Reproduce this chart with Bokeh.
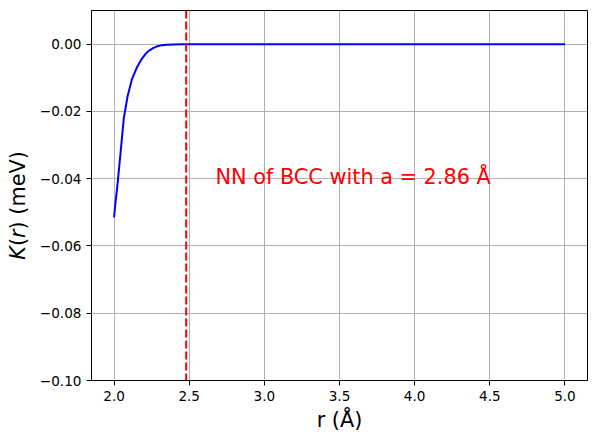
from bokeh.plotting import figure
from bokeh.models import Range1d, FixedTicker, Span, Label
from bokeh.layouts import row
from bokeh.embed import file_html
from bokeh.resources import INLINE
import math

# ---- data ----
r_vals = [2.00, 2.01, 2.02, 2.03, 2.045, 2.065, 2.09, 2.12, 2.15, 2.18, 2.21, 2.23, 2.26, 2.29,
          2.32, 2.35, 2.40, 2.45, 2.50, 3.00, 3.50, 4.00, 4.50, 5.00]
k_vals = [-0.0515, -0.0470, -0.0430, -0.0385, -0.0315, -0.0220, -0.0155, -0.0103, -0.0071, -0.0047,
          -0.0029, -0.0020, -0.0012, -0.0006, -0.0003, -0.0002, -0.0001, 0.0, 0.0, 0.0, 0.0, 0.0, 0.0, 0.0]
nn_distance = 2.48
x_ticks = [2.0, 2.5, 3.0, 3.5, 4.0, 4.5, 5.0]
x_tick_labels = ["2.0", "2.5", "3.0", "3.5", "4.0", "4.5", "5.0"]
y_ticks = [-0.10, -0.08, -0.06, -0.04, -0.02, 0.0]
y_tick_labels = ["\u22120.10", "\u22120.08", "\u22120.06", "\u22120.04", "\u22120.02", "0.00"]
annotation_text = "NN of BCC with a = 2.86 \u00c5"
annotation_pos = (2.675, -0.0396)
x_label = "r (\u00c5)"
y_label_parts = ["K", "(", "r", ") (meV)"]
y_label_styles = ["italic", "normal", "italic", "normal"]

# ---- layout ----
W, H = 596, 441
LW = 30                      # width of the strip holding the y-axis title
X0, X1 = 1.85, 5.15
Y0, Y1 = -0.10, 0.01
FW, FH = 496, 370
BL, BT = 91 - LW, 10
BR = W - LW - BL - FW
BB = H - BT - FH
FONT = "DejaVu Sans"
FS = 20.8

p = figure(width=W - LW, height=H, frame_width=FW, frame_height=FH,
           x_range=Range1d(X0, X1), y_range=Range1d(Y0, Y1),
           output_backend="svg", toolbar_location=None,
           min_border_left=BL, min_border_right=BR, min_border_top=BT, min_border_bottom=BB)
p.background_fill_color = "white"
p.border_fill_color = "white"
p.outline_line_color = "black"
p.outline_line_width = 1

for ax in (p.xaxis[0], p.yaxis[0]):
    ax.axis_line_color = "black"
    ax.axis_line_width = 1
    ax.major_tick_line_color = "black"
    ax.major_tick_line_width = 1
    ax.major_tick_out = 5
    ax.major_tick_in = 0
    ax.minor_tick_line_color = None
    ax.major_label_standoff = 5
    ax.major_label_text_font = FONT
    ax.major_label_text_font_size = "13.6px"
    ax.major_label_text_color = "black"

p.xaxis.ticker = FixedTicker(ticks=x_ticks)
p.xaxis.major_label_overrides = {t: l for t, l in zip(x_ticks, x_tick_labels)}
p.yaxis.ticker = FixedTicker(ticks=y_ticks)
p.yaxis.major_label_overrides = {t: l for t, l in zip(y_ticks, y_tick_labels)}

p.xaxis.axis_label = x_label
p.xaxis.axis_label_text_font = FONT
p.xaxis.axis_label_text_font_size = f"{FS}px"
p.xaxis.axis_label_text_font_style = "normal"
p.xaxis.axis_label_text_color = "black"
p.xaxis.axis_label_standoff = 4

for g in (p.xgrid[0], p.ygrid[0]):
    g.grid_line_color = "#b0b0b0"
    g.grid_line_width = 1
p.xgrid.ticker = FixedTicker(ticks=x_ticks)
p.ygrid.ticker = FixedTicker(ticks=y_ticks)

p.line(r_vals, k_vals, line_color="blue", line_width=2)
p.add_layout(Span(location=nn_distance, dimension="height", line_color="red",
                  line_width=2, line_dash="8 3"))
p.add_layout(Label(x=annotation_pos[0], y=annotation_pos[1], text=annotation_text,
                   text_font=FONT, text_font_size=f"{FS}px", text_color="red",
                   text_align="left", text_baseline="alphabetic"))

# ---- strip on the left with the y-axis title (italic K and r) ----
lab = figure(width=LW, height=H, frame_width=LW, frame_height=H,
             x_range=Range1d(0, LW), y_range=Range1d(0, H),
             x_axis_location=None, y_axis_location=None,
             output_backend="svg", toolbar_location=None,
             min_border_left=0, min_border_right=0, min_border_top=0, min_border_bottom=0)
lab.outline_line_color = None
lab.background_fill_color = "white"
lab.border_fill_color = "white"
lab.xgrid.visible = False
lab.ygrid.visible = False

em = {"K": 0.656, "(": 0.390, "r": 0.411, ") (meV)": 0.390 + 0.318 + 0.390 + 0.974 + 0.615 + 0.684 + 0.390}
total = sum(em[t] for t in y_label_parts) * FS
center = H - (BT + FH / 2.0)
pos = center - total / 2.0
for txt, style in zip(y_label_parts, y_label_styles):
    lab.add_layout(Label(x=17.5, y=pos, text=txt, angle=math.pi / 2, text_font=FONT,
                         text_font_size=f"{FS}px", text_font_style=style, text_color="black",
                         text_align="left", text_baseline="middle"))
    pos += em[txt] * FS

layout = row(lab, p, spacing=0)
open("out.html", "w").write(file_html(layout, INLINE))
